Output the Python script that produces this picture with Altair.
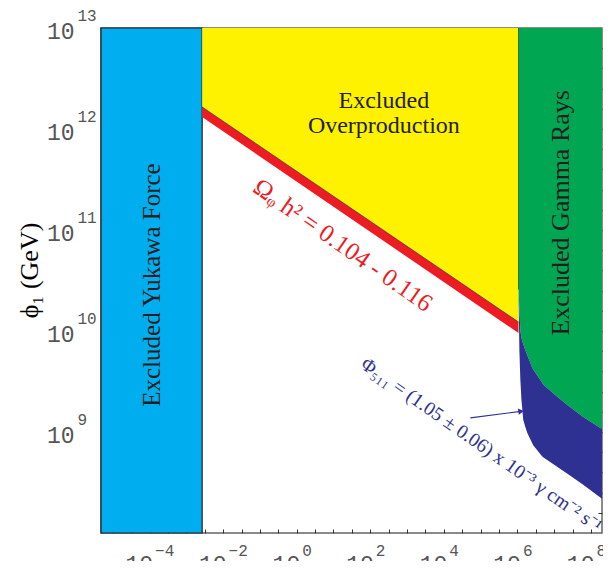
import altair as alt
import pandas as pd

# ---------------- data (log10 values) ----------------
X_LOG_DOMAIN = [-5.32, 8.3]
Y_LOG_DOMAIN = [8, 13]

x_label_exps = [-4, -2, 0, 2, 4, 6, 8]
y_label_exps = [9, 10, 11, 12, 13]
x_tick_exps = [-5, -4.5, -4, -3.5, -3, -2.5, -2, -1.5, -1, -0.5, 0, 0.5, 1, 1.5, 2,
               2.5, 3, 3.5, 4, 4.5, 5, 5.5, 6, 6.5, 7, 7.5, 8]
y_tick_exps = [8.2, 8.4, 8.6, 8.8, 9, 9.2, 9.4, 9.6, 9.8, 10, 10.2, 10.4, 10.6, 10.8,
               11, 11.2, 11.4, 11.6, 11.8, 12, 12.2, 12.4, 12.6, 12.8]

# Excluded Yukawa force (full height)
yukawa_logx = [-5.32, -2.57]

# relic abundance band Omega h^2 = 0.104 - 0.116
relic_logx = [-2.57, 6.03]
relic_top_logy = [12.218, 10.089]
relic_bot_logy = [12.119, 9.98]

# 511 keV line band and gamma-ray exclusion
gamma_logx = [6.03, 6.054, 6.08, 6.11, 6.16, 6.216, 6.27, 6.40, 6.43, 6.67, 6.70,
              7.02, 7.35, 7.78, 8.3]
flux_upper_logy = [10.41, 10.22, 10.01, 9.93, 9.87, 9.81, 9.76, 9.64, 9.62, 9.49,
                   9.47, 9.37, 9.27, 9.15, 9.03]
flux_lower_logy = [10.41, 9.81, 9.52, 9.32, 9.12, 9.05, 8.99, 8.89, 8.87, 8.76,
                   8.75, 8.67, 8.59, 8.48, 8.34]

# annotation arrow (log10 x, log10 y)
arrow_logx = [4.72, 6.1]
arrow_logy = [9.139, 9.205]

# ---------------- styling ----------------
BLUE = "#00AEEF"
YELLOW = "#FFF200"
RED = "#ED1C24"
GREEN = "#00A651"
NAVY = "#2E3192"
INK = "#231F20"
SERIF = "Liberation Serif"
MONO = "Liberation Mono"

W, H = 501, 505
PAD_L = 93

p = lambda v: 10 ** v
xs = alt.Scale(type="log", domain=[p(v) for v in X_LOG_DOMAIN], nice=False)
ys = alt.Scale(type="log", domain=[p(v) for v in Y_LOG_DOMAIN], nice=False)


def X(f, axis=None):
    return alt.X(f, type="quantitative", scale=xs, axis=axis)


def Y(f, axis=None):
    return alt.Y(f, type="quantitative", scale=ys, axis=axis)


# ---------------- tables ----------------
df_yuk = pd.DataFrame({"x0": [p(yukawa_logx[0])], "x1": [p(yukawa_logx[1])],
                       "y0": [p(Y_LOG_DOMAIN[0])], "y1": [p(Y_LOG_DOMAIN[1])]})
df_relic = pd.DataFrame({"x": [p(v) for v in relic_logx],
                         "top": [p(v) for v in relic_top_logy],
                         "bot": [p(v) for v in relic_bot_logy],
                         "ceil": [p(Y_LOG_DOMAIN[1])] * len(relic_logx)})
df_gamma = pd.DataFrame({"x": [p(v) for v in gamma_logx],
                         "up": [p(v) for v in flux_upper_logy],
                         "lo": [p(v) for v in flux_lower_logy],
                         "ceil": [p(Y_LOG_DOMAIN[1])] * len(gamma_logx)})
df_arrow = pd.DataFrame({"x": [p(v) for v in arrow_logx], "y": [p(v) for v in arrow_logy]})

yukawa = alt.Chart(df_yuk).mark_rect(color=BLUE, stroke=INK, strokeWidth=1.2).encode(
    x=X("x0"), x2="x1", y=Y("y0"), y2="y1")
over = alt.Chart(df_relic).mark_area(color=YELLOW).encode(x=X("x"), y=Y("top"), y2="ceil")
relic = alt.Chart(df_relic).mark_area(color=RED).encode(x=X("x"), y=Y("bot"), y2="top")
relic_edge = alt.Chart(df_relic).mark_line(color=INK, strokeWidth=0.6).encode(x=X("x"), y=Y("top"))
green = alt.Chart(df_gamma).mark_area(color=GREEN).encode(x=X("x"), y=Y("up"), y2="ceil")
navy = alt.Chart(df_gamma).mark_area(color=NAVY).encode(x=X("x"), y=Y("lo"), y2="up")
green_edge = alt.Chart(pd.DataFrame({"x": [p(gamma_logx[0])] * 2,
                                     "y": [p(flux_upper_logy[0]), p(Y_LOG_DOMAIN[1])]})).mark_line(
    color=INK, strokeWidth=0.6).encode(x=X("x"), y=Y("y"))

arrow_line = alt.Chart(df_arrow).mark_line(color=NAVY, strokeWidth=1.2).encode(x=X("x"), y=Y("y"))
arrow_head = alt.Chart(df_arrow.iloc[[1]]).mark_point(
    shape="triangle-right", filled=True, color=NAVY, size=40, angle=352, opacity=1).encode(
    x=X("x"), y=Y("y"))


def label(text, lx, ly, color=INK, size=23, angle=0, baseline="middle", align="center"):
    df = pd.DataFrame({"x": [p(lx)], "y": [p(ly)], "t": [text]})
    return alt.Chart(df).mark_text(font=SERIF, fontSize=size, color=color, angle=angle,
                                   baseline=baseline, align=align).encode(
        x=X("x"), y=Y("y"), text="t:N")


texts = [
    label("Excluded  Yukawa  Force", -3.92, 10.455, size=25, angle=270),
    label("Excluded", 2.37, 12.208, size=24, baseline="alphabetic"),
    label("Overproduction", 2.37, 11.96, size=24, baseline="alphabetic"),
    label("Excluded  Gamma  Rays", 7.19, 11.17, size=26, angle=270),
    label("Ωᵩ h² = 0.104 - 0.116", 1.26, 10.85, color=RED, size=25, angle=35),
    label("Φ₅₁₁ = (1.05 ± 0.06) x 10⁻³ γ cm⁻² s⁻¹", 5.02, 8.87, color=NAVY, size=19.5, angle=35),
]

# ---------------- axes (label axes + inward tick axes) ----------------
df_anchor = pd.DataFrame({"x": [1.0], "y": [1e10]})
lab_common = dict(domain=False, grid=False, ticks=False, tickSize=0, labelFont=MONO,
                  labelColor="#555", labelFlush=False, labelOverlap=False, labelBound=False)

axis_base = alt.Chart(df_anchor).mark_point(opacity=0).encode(
    x=X("x", alt.Axis(orient="bottom", values=[p(v) for v in x_label_exps], labelExpr="'10'",
                      labelFontSize=23, labelAlign="right", labelOffset=3, labelBaseline="top",
                      labelPadding=20, title=None, **lab_common)),
    y=Y("y", alt.Axis(orient="left", values=[p(v) for v in y_label_exps], labelExpr="'10'",
                      labelFontSize=23, labelAlign="right", labelBaseline="middle",
                      labelPadding=27, labelOffset=3, title="ϕ₁ (GeV)", titleFont=SERIF,
                      titleFontSize=26, titleFontWeight="normal", titleColor="black",
                      titleAngle=270, titleX=-72, titleY=242, titleAlign="center",
                      titleBaseline="middle", **lab_common)))

exp_expr = "format(round(log(datum.value)/LN10), 'd')"
axis_exp = alt.Chart(df_anchor).mark_point(opacity=0).encode(
    x=X("x", alt.Axis(orient="bottom", values=[p(v) for v in x_label_exps], labelExpr=exp_expr,
                      labelFontSize=16, labelAlign="left", labelOffset=5, labelBaseline="top",
                      labelPadding=9, title=None, **lab_common)),
    y=Y("y", alt.Axis(orient="left", values=[p(v) for v in y_label_exps], labelExpr=exp_expr,
                      labelFontSize=16, labelAlign="left", labelBaseline="middle",
                      labelPadding=24, labelOffset=-13, title=None, **lab_common)))

tick_common = dict(domain=False, grid=False, labels=False, ticks=True, tickSize=4,
                   tickColor="#333", tickWidth=1, title=None)
ticks_in1 = alt.Chart(df_anchor).mark_point(opacity=0).encode(
    x=X("x", alt.Axis(orient="top", offset=-H, values=[p(v) for v in x_tick_exps], **tick_common)),
    y=Y("y", alt.Axis(orient="right", offset=-W, values=[p(v) for v in y_tick_exps], **tick_common)))
ticks_in2 = alt.Chart(df_anchor).mark_point(opacity=0).encode(
    x=X("x", alt.Axis(orient="bottom", offset=-H, values=[p(v) for v in x_tick_exps], **tick_common)),
    y=Y("y", alt.Axis(orient="left", offset=-W, values=[p(v) for v in y_tick_exps], **tick_common)))

chart = alt.layer(
    yukawa, over, relic, relic_edge, green, navy, green_edge, arrow_line, arrow_head,
    *texts, axis_base, axis_exp, ticks_in1, ticks_in2
).resolve_axis(x="independent", y="independent").properties(
    width=W, height=H,
    autosize=alt.AutoSizeParams(type="none"),
    padding={"left": PAD_L, "top": 20, "right": 1, "bottom": 28},
).configure_view(stroke="#666", strokeWidth=1.5)

chart.save("out.html", embed_options={"renderer": "svg", "actions": False})
